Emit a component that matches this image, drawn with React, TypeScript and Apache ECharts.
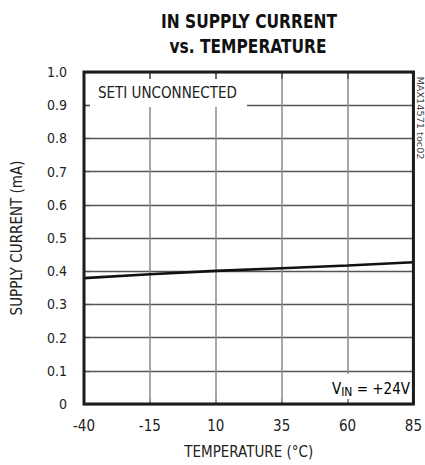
import React, { useEffect, useRef } from "react";
import * as echarts from "echarts";

const temperatures = ["-40", "-15", "10", "35", "60", "85"];
const supplyCurrent = [0.379, 0.391, 0.401, 0.409, 0.417, 0.427];
const titleLines = ["IN SUPPLY CURRENT", "vs. TEMPERATURE"];
const xTitle = "TEMPERATURE (°C)";
const yTitle = "SUPPLY CURRENT (mA)";
const noteTop = "SETI UNCONNECTED";
const docId = "MAX14571 toc02";

const FONT = '"Liberation Sans Narrow", "Arial Narrow", "DejaVu Sans Condensed", "Roboto Condensed", sans-serif';

export default function App() {
  const ref = useRef<HTMLDivElement>(null);
  useEffect(() => {
    if (!ref.current) return;
    const chart = echarts.init(ref.current, null, { renderer: "svg" });
    const G = { left: 84, top: 72, width: 332, height: 332 };
    const hiddenAxis = {
      axisLabel: { show: false },
      splitLine: { show: false },
      axisLine: { show: false },
    };
    chart.setOption({
      animation: false,
      backgroundColor: "#ffffff",
      grid: {
        ...G,
        show: true,
        borderColor: "#1c1c1c",
        borderWidth: 3,
        backgroundColor: "transparent",
        z: 10,
      },
      xAxis: [
        {
          type: "category",
          data: temperatures,
          boundaryGap: false,
          position: "bottom",
          z: 1,
          axisLine: { show: false },
          axisTick: { show: false },
          splitLine: { show: true, lineStyle: { color: "#8a8a8a", width: 1.5 } },
          axisLabel: {
            show: true,
            margin: 14,
            color: "#222",
            fontFamily: FONT,
            fontSize: 15,
          },
          name: xTitle,
          nameLocation: "middle",
          nameGap: 40,
          nameTextStyle: { color: "#222", fontFamily: FONT, fontSize: 15 },
        },
        {
          type: "category",
          data: temperatures,
          boundaryGap: false,
          position: "bottom",
          z: 6,
          ...hiddenAxis,
          axisTick: { show: true, inside: true, length: 5, lineStyle: { color: "#8a8a8a", width: 1.5 } },
        },
        {
          type: "category",
          data: temperatures,
          boundaryGap: false,
          position: "top",
          z: 6,
          ...hiddenAxis,
          axisTick: { show: true, inside: true, length: 7, lineStyle: { color: "#555", width: 1.5 } },
        },
      ],
      yAxis: [
        {
          type: "value",
          min: 0,
          max: 1,
          interval: 0.1,
          z: 1,
          axisLine: { show: false },
          axisTick: { show: false },
          splitLine: { show: true, lineStyle: { color: "#555", width: 1.3 } },
          axisLabel: {
            margin: 17,
            color: "#222",
            fontFamily: FONT,
            fontSize: 14,
            formatter: (v: number) => (v === 0 ? "0" : v.toFixed(1)),
          },
          name: yTitle,
          nameLocation: "middle",
          nameGap: 60,
          nameTextStyle: { color: "#222", fontFamily: FONT, fontSize: 15 },
        },
        {
          type: "value",
          min: 0,
          max: 1,
          interval: 0.1,
          position: "left",
          z: 6,
          ...hiddenAxis,
          axisTick: { show: true, inside: true, length: 6, lineStyle: { color: "#555", width: 1.3 } },
        },
      ],
      series: [
        {
          type: "line",
          xAxisIndex: 0,
          yAxisIndex: 0,
          data: supplyCurrent,
          showSymbol: false,
          symbol: "none",
          lineStyle: { color: "#111", width: 2.6 },
          z: 4,
        },
      ],
      graphic: [
        {
          type: "text",
          x: 249,
          y: 21,
          z: 20,
          scaleX: 0.86,
          style: {
            text: titleLines[0],
            textAlign: "center",
            textVerticalAlign: "middle",
            font: `bold 20px ${FONT}`,
            fill: "#111",
          },
        },
        {
          type: "text",
          x: 248,
          y: 46,
          z: 20,
          scaleX: 0.86,
          style: {
            text: titleLines[1],
            textAlign: "center",
            textVerticalAlign: "middle",
            font: `bold 20px ${FONT}`,
            fill: "#111",
          },
        },
        {
          type: "rect",
          z: 5,
          shape: { x: 90, y: 79, width: 157, height: 28 },
          style: { fill: "#ffffff" },
        },
        {
          type: "text",
          x: 98,
          y: 93,
          z: 7,
          style: {
            text: noteTop,
            textVerticalAlign: "middle",
            font: `15px ${FONT}`,
            fill: "#222",
          },
        },
        {
          type: "rect",
          z: 5,
          shape: { x: 318, y: 374, width: 95, height: 25 },
          style: { fill: "#ffffff" },
        },
        {
          type: "text",
          x: 410,
          y: 389,
          z: 7,
          style: {
            text: "{v|V}{s|IN}{v| = +24V}",
            textAlign: "right",
            textVerticalAlign: "middle",
            rich: {
              v: { fontFamily: FONT, fontSize: 15, color: "#222" },
              s: { fontFamily: FONT, fontSize: 12, color: "#222", padding: [6, 0, 0, 0] },
            },
          },
        },
        {
          type: "text",
          x: 420,
          y: 118,
          rotation: -Math.PI / 2,
          scaleX: 1.2,
          z: 7,
          style: {
            text: docId,
            textAlign: "center",
            textVerticalAlign: "middle",
            font: `9px ${FONT}`,
            fill: "#444",
          },
        },
      ],
    });
    return () => chart.dispose();
  }, []);
  return <div ref={ref} style={{ width: 425, height: 465, position: "absolute", left: 0, top: 0 }} />;
}
